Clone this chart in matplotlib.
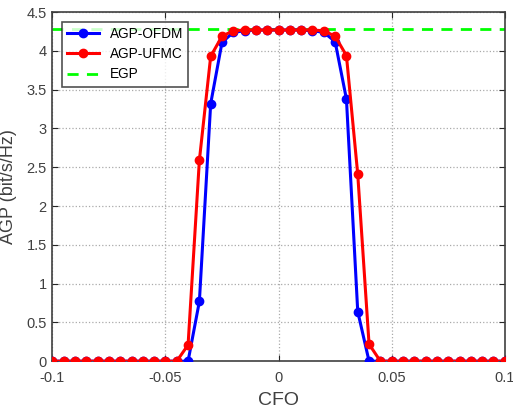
import matplotlib
matplotlib.use('Agg')
import matplotlib.pyplot as plt
import numpy as np

plt.rcParams['font.family'] = ['Liberation Sans', 'DejaVu Sans']

# CFO points, step 0.005 from -0.1 to 0.1
cfo = [-0.1, -0.095, -0.09, -0.085, -0.08, -0.075, -0.07, -0.065, -0.06, -0.055,
       -0.05, -0.045, -0.04, -0.035, -0.03, -0.025, -0.02, -0.015, -0.01, -0.005,
       0.0, 0.005, 0.01, 0.015, 0.02, 0.025, 0.03, 0.035, 0.04, 0.045,
       0.05, 0.055, 0.06, 0.065, 0.07, 0.075, 0.08, 0.085, 0.09, 0.095, 0.1]

agp_ofdm = [0, 0, 0, 0, 0, 0, 0, 0, 0, 0,
            0, 0, 0, 0.77, 3.32, 4.11, 4.24, 4.26, 4.27, 4.27,
            4.27, 4.27, 4.27, 4.26, 4.24, 4.12, 3.38, 0.64, 0, 0,
            0, 0, 0, 0, 0, 0, 0, 0, 0, 0, 0]

agp_ufmc = [0, 0, 0, 0, 0, 0, 0, 0, 0, 0,
            0, 0, 0.21, 2.59, 3.93, 4.19, 4.26, 4.27, 4.27, 4.27,
            4.27, 4.27, 4.27, 4.27, 4.26, 4.19, 3.94, 2.41, 0.22, 0,
            0, 0, 0, 0, 0, 0, 0, 0, 0, 0, 0]

egp = 4.28

fig = plt.figure(figsize=(5.13, 4.19), dpi=100)
ax = fig.add_axes([0.102, 0.138, 0.882, 0.833])

ax.plot(cfo, agp_ofdm, '-o', color='#0000ff', lw=2.2, ms=6, label='AGP-OFDM', zorder=3)
ax.plot(cfo, agp_ufmc, '-o', color='#ff0000', lw=2.2, ms=6, label='AGP-UFMC', zorder=4)
ax.axhline(egp, color='#00ff00', ls=(0, (4, 3)), lw=2, label='EGP', zorder=2)

ax.set_xlim(-0.1, 0.1)
ax.set_ylim(0, 4.5)
ax.set_xticks([-0.1, -0.05, 0, 0.05, 0.1])
ax.set_xticklabels(['-0.1', '-0.05', '0', '0.05', '0.1'])
ax.set_yticks(np.arange(0, 4.51, 0.5))
ax.set_yticklabels(['0', '0.5', '1', '1.5', '2', '2.5', '3', '3.5', '4', '4.5'])

ax.grid(True, ls=':', color='#aaaaaa', lw=0.9)
ax.tick_params(direction='in', top=True, right=True, labelsize=10.5,
               colors='#262626', labelcolor='#404040', length=4)
ax.tick_params(axis='x', pad=7)
ax.tick_params(axis='y', pad=4)
for s in ax.spines.values():
    s.set_color('#404040')
    s.set_linewidth(1.2)

ax.set_xlabel('CFO', fontsize=14, color='#404040', labelpad=5)
ax.set_ylabel('AGP (bit/s/Hz)', fontsize=13, color='#404040', labelpad=7)

leg = ax.legend(loc='upper left', fontsize=9.8, frameon=True, fancybox=False,
                edgecolor='#262626', borderaxespad=0.7, handlelength=2.3,
                labelspacing=0.45, borderpad=0.4)
leg.get_frame().set_linewidth(1.2)

fig.savefig('out.png', dpi=100)
